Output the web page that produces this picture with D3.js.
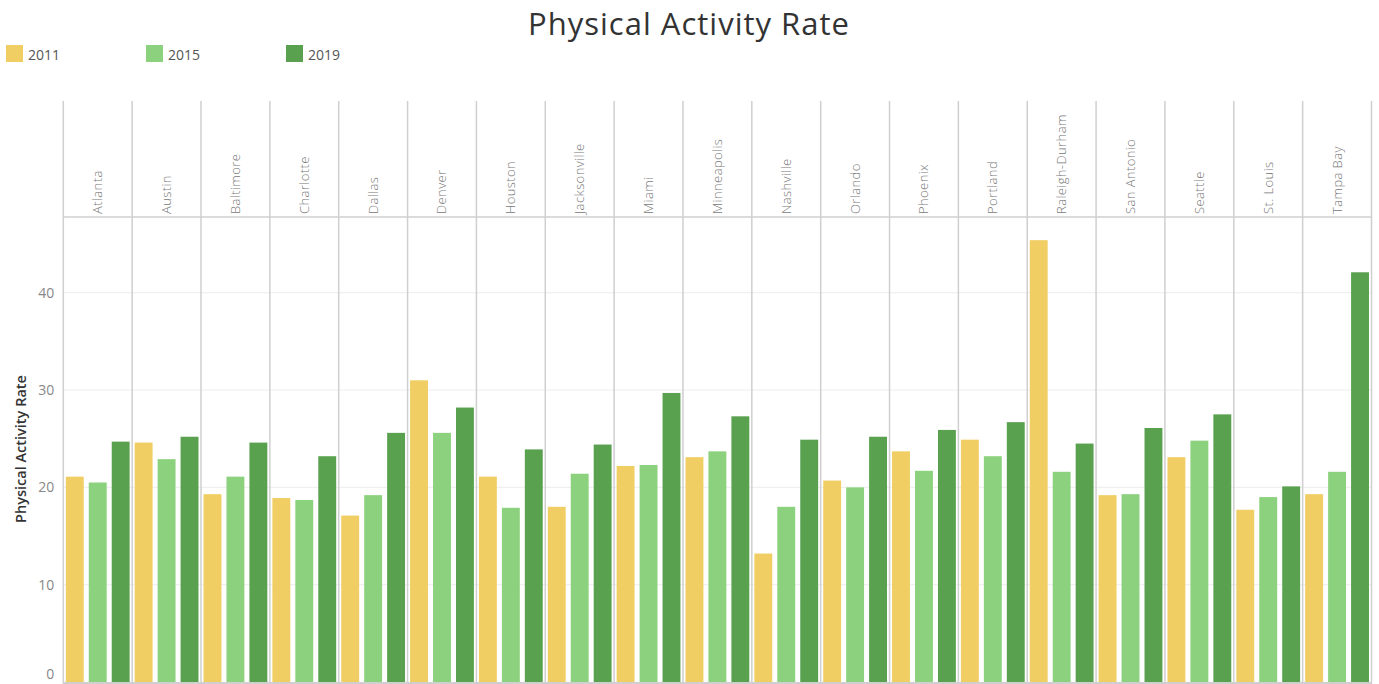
<!DOCTYPE html>
<html><head><meta charset="utf-8">
<script src="https://cdn.jsdelivr.net/npm/d3@7"></script>
<style>body{margin:0;background:#fff;overflow:hidden}svg{display:block}</style>
</head><body>
<svg id="chart" width="1379" height="684"></svg>
<script>
const cities = ["Atlanta","Austin","Baltimore","Charlotte","Dallas","Denver","Houston","Jacksonville","Miami","Minneapolis","Nashville","Orlando","Phoenix","Portland","Raleigh-Durham","San Antonio","Seattle","St. Louis","Tampa Bay"];
const years = ["2011","2015","2019"];
const values2011 = [21.1,24.6,19.3,18.9,17.1,31.0,21.1,18.0,22.2,23.1,13.2,20.7,23.7,24.9,45.4,19.2,23.1,17.7,19.3];
const values2015 = [20.5,22.9,21.1,18.7,19.2,25.6,17.9,21.4,22.3,23.7,18.0,20.0,21.7,23.2,21.6,19.3,24.8,19.0,21.6];
const values2019 = [24.7,25.2,24.6,23.2,25.6,28.2,23.9,24.4,29.7,27.3,24.9,25.2,25.9,26.7,24.5,26.1,27.5,20.1,42.1];
const yTicks = [0,10,20,30,40];
const colors = ["#F1CE63","#8CD17D","#59A14F"];
const seriesVals = [values2011, values2015, values2019];

const svg = d3.select("#chart");
const font = "'Open Sans', 'Noto Sans', sans-serif";
const L = 63.3, R = 1371.5, headerTop = 101, headerBot = 217, bottom = 682;

const x0 = d3.scaleBand().domain(cities).range([L, R]).padding(0);
const x1 = d3.scaleBand().domain(years).range([0, x0.bandwidth()]).paddingInner(0.22).paddingOuter(0.11);
const y = d3.scaleLinear().domain([0, 47.78]).range([bottom, headerBot]);
const color = d3.scaleOrdinal().domain(years).range(colors);

// title
svg.append("text").attr("x", 689).attr("y", 34.5).attr("text-anchor","middle")
  .style("font-family", font).style("font-size","31px").style("letter-spacing","1px")
  .style("fill","#333").text("Physical Activity Rate");

// legend
const leg = svg.append("g");
years.forEach((yr,i)=>{
  const g = leg.append("g").attr("transform",`translate(${6+i*140},45)`);
  g.append("rect").attr("width",17).attr("height",17).attr("fill",color(yr));
  g.append("text").attr("x",22).attr("y",14.5).style("font-family",font).style("font-size","14px").style("fill","#555").text(yr);
});

// gridlines
svg.append("g").selectAll("line").data(yTicks.filter(d=>d>0)).join("line")
  .attr("x1",L).attr("x2",R).attr("y1",d=>y(d)).attr("y2",d=>y(d))
  .attr("stroke","#f0f0f0").attr("stroke-width",1.2);

// y axis
const yAxis = svg.append("g").attr("transform",`translate(${L},0)`)
  .call(d3.axisLeft(y).tickValues(yTicks).tickSize(0).tickPadding(9));
yAxis.select(".domain").remove();
yAxis.selectAll("text").style("font-family",font).style("font-size","14px").style("fill","#888")
  .attr("dy", d=> d===0 ? "-0.25em" : "0.32em");

svg.append("text").attr("transform","translate(26,449) rotate(-90)").attr("text-anchor","middle")
  .style("font-family",font).style("font-size","14.5px").style("font-weight","600").style("fill","#333")
  .text("Physical Activity Rate");

// bars
const groups = svg.append("g").selectAll("g").data(cities).join("g")
  .attr("transform",d=>`translate(${x0(d)},0)`);
groups.selectAll("rect").data((c,ci)=>years.map((yr,si)=>({yr, v: seriesVals[si][ci]}))).join("rect")
  .attr("x",d=>x1(d.yr)).attr("width",x1.bandwidth())
  .attr("y",d=>y(d.v)).attr("height",d=>bottom - y(d.v))
  .attr("fill",d=>color(d.yr));

// panel separators
const seps = cities.map(c=>x0(c)).concat([R]);
svg.append("g").selectAll("line").data(seps).join("line")
  .attr("x1",d=>d).attr("x2",d=>d).attr("y1",headerTop).attr("y2",684)
  .attr("stroke","#cfcfcf").attr("stroke-width",1.5);

// header bottom line
svg.append("line").attr("x1",L).attr("x2",R).attr("y1",headerBot).attr("y2",headerBot)
  .attr("stroke","#cfcfcf").attr("stroke-width",1.5);
// baseline
svg.append("line").attr("x1",L).attr("x2",R).attr("y1",683).attr("y2",683)
  .attr("stroke","#cfcfcf").attr("stroke-width",2);

// header labels
svg.append("g").selectAll("text").data(cities).join("text")
  .attr("transform",d=>`translate(${x0(d)+x0.bandwidth()/2+4.5},214) rotate(-90)`)
  .style("font-family",font).style("font-size","13px").style("font-weight","300")
  .style("letter-spacing","0.4px").style("fill","#777")
  .text(d=>d);
</script>
</body></html>
